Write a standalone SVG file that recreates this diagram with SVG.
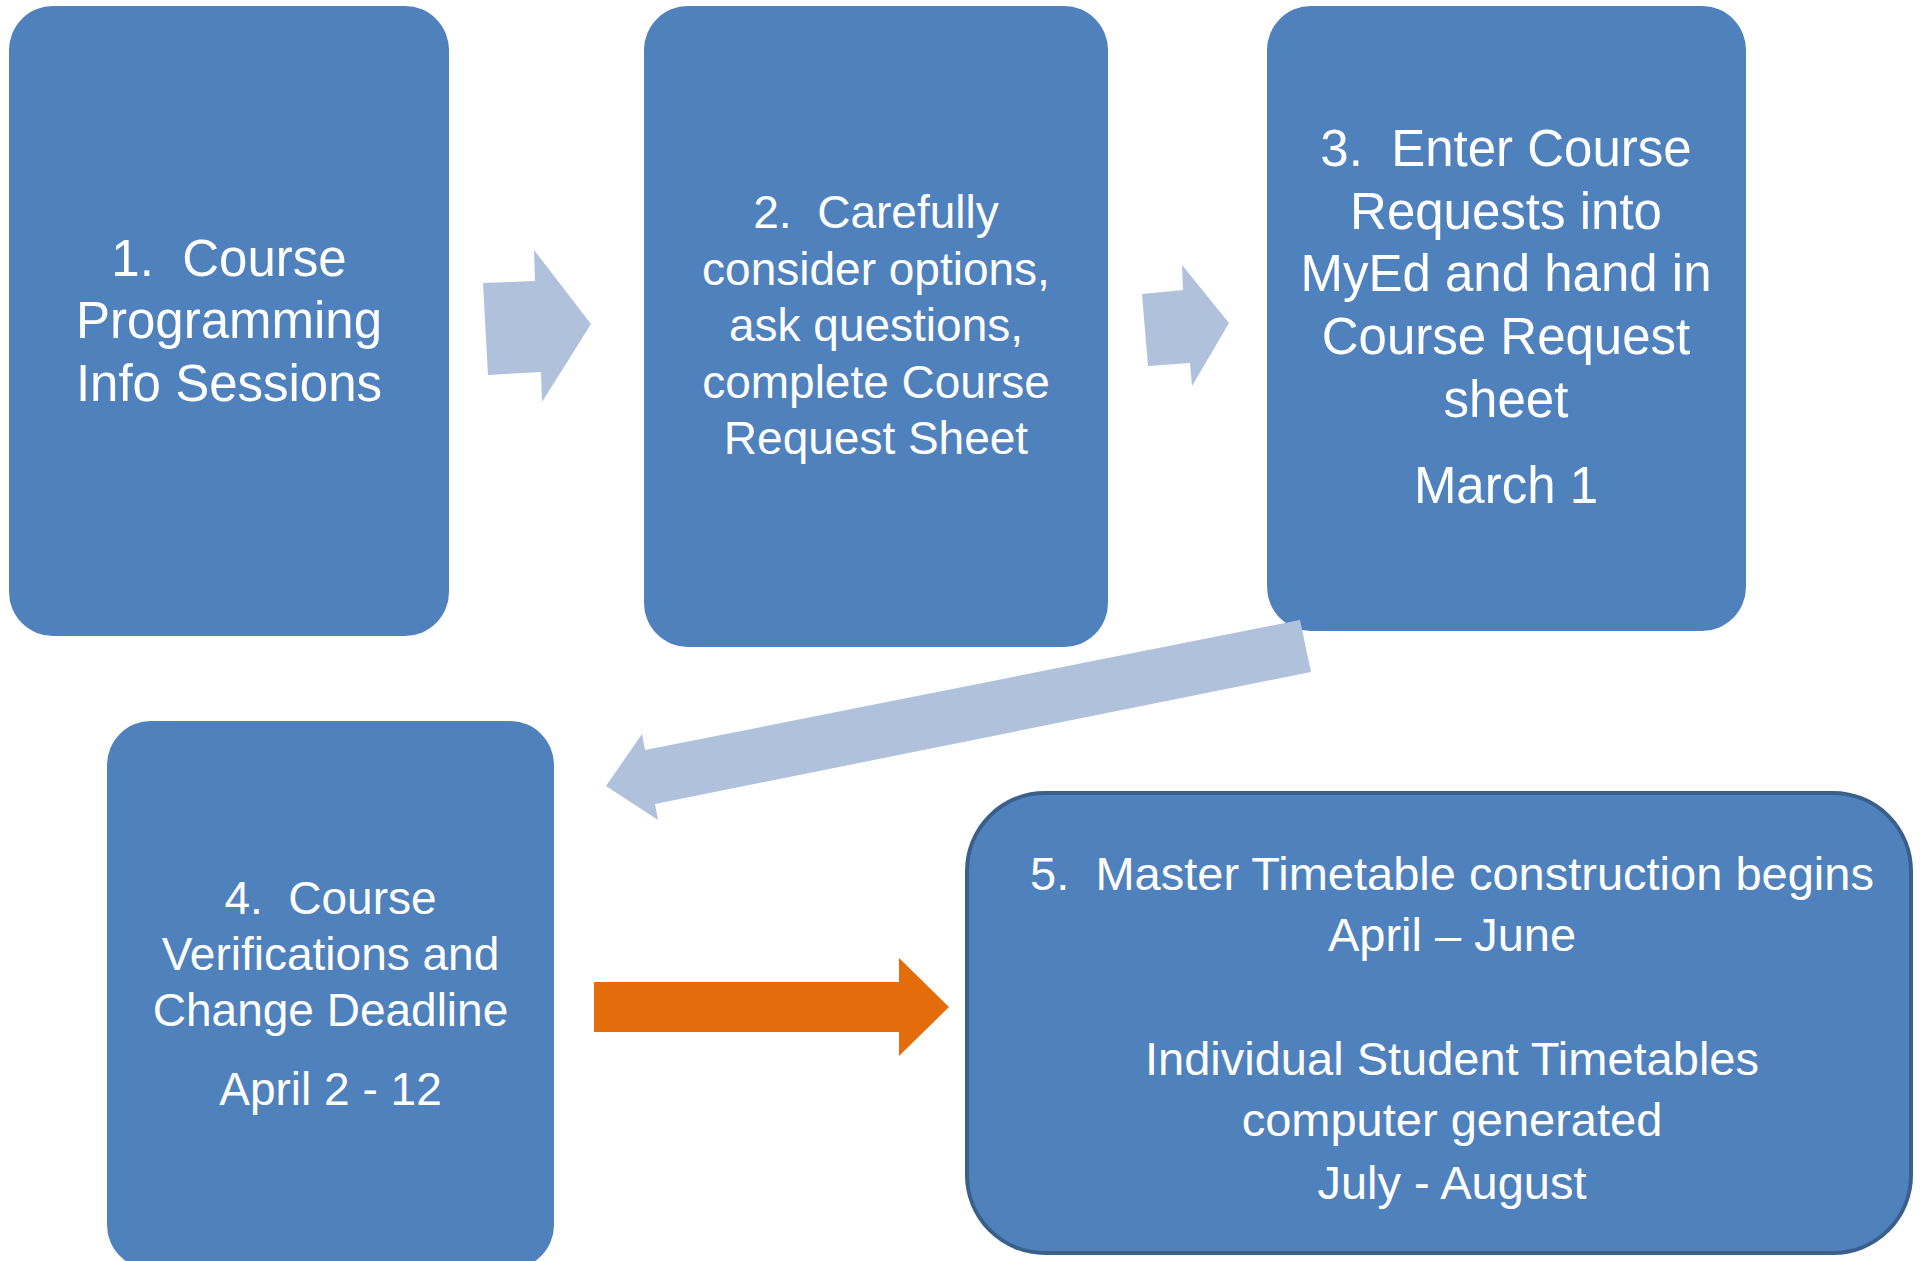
<svg xmlns="http://www.w3.org/2000/svg" width="1920" height="1261" viewBox="0 0 1920 1261">
<style>
.box{fill:#4F81BD;}
.box5{fill:#4F81BD;stroke:#3A5F8B;stroke-width:4;}
.t{fill:#FFFFFF;font-family:"Liberation Sans",Arial,sans-serif;text-anchor:middle;white-space:pre;}
.light{fill:#B0C1DC;}
.orange{fill:#E46C0A;}
</style>
<rect width="1920" height="1261" fill="#FFFFFF"/>
<g id="node1">
<rect class="box" x="9" y="6" width="440" height="630" rx="44" ry="44"/>
<text class="t" font-size="51" x="229" xml:space="preserve"><tspan x="229" y="276">1.  Course</tspan><tspan x="229" y="338">Programming</tspan><tspan x="229" y="401">Info Sessions</tspan></text>
</g>
<g id="node2">
<rect class="box" x="644" y="6" width="464" height="641" rx="44" ry="44"/>
<text class="t" font-size="46" x="876" xml:space="preserve"><tspan x="876" y="228">2.  Carefully</tspan><tspan x="876" y="284.5">consider options,</tspan><tspan x="876" y="341">ask questions,</tspan><tspan x="876" y="397.5">complete Course</tspan><tspan x="876" y="454">Request Sheet</tspan></text>
</g>
<g id="node3">
<rect class="box" x="1267" y="6" width="479" height="625" rx="44" ry="44"/>
<text class="t" font-size="51" x="1506" xml:space="preserve"><tspan x="1506" y="166">3.  Enter Course</tspan><tspan x="1506" y="229">Requests into</tspan><tspan x="1506" y="291">MyEd and hand in</tspan><tspan x="1506" y="354">Course Request</tspan><tspan x="1506" y="417">sheet</tspan><tspan x="1506" y="503">March 1</tspan></text>
</g>
<g id="node4">
<rect class="box" x="107" y="721" width="447" height="548" rx="44" ry="44"/>
<text class="t" font-size="46" x="330.5" xml:space="preserve"><tspan x="330.5" y="914">4.  Course</tspan><tspan x="330.5" y="970">Verifications and</tspan><tspan x="330.5" y="1026">Change Deadline</tspan><tspan x="330.5" y="1105">April 2 - 12</tspan></text>
</g>
<g id="node5">
<rect class="box5" x="967" y="793" width="944" height="460" rx="78" ry="78"/>
<text class="t" font-size="47" x="1452" xml:space="preserve"><tspan x="1452" y="890">5.  Master Timetable construction begins</tspan><tspan x="1452" y="951">April – June</tspan><tspan x="1452" y="1075">Individual Student Timetables</tspan><tspan x="1452" y="1136">computer generated</tspan><tspan x="1452" y="1199">July - August</tspan></text>
</g>
<g id="connectors">
<polygon class="light" points="483,283 535,281 534,250 591,324 542,402 541,372 488,375"/>
<polygon class="light" points="1142,294 1183,290 1182,265 1229,323 1192,386 1190,363 1148,366"/>
<polygon class="light" points="1300,620 1311,672 655,804 658,820 606,786 642,734 645,750"/>
<polygon class="orange" points="594,982 899,982 899,958 949,1007 899,1056 899,1032 594,1032"/>
</g>
</svg>
